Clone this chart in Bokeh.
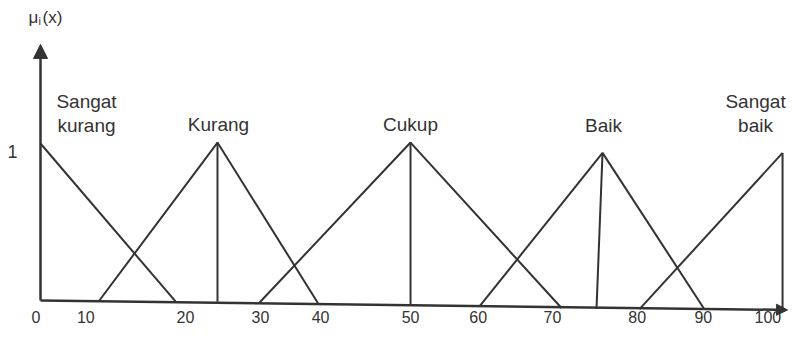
from bokeh.plotting import figure
from bokeh.models import Range1d, ColumnDataSource, Arrow, NormalHead
from bokeh.core.properties import value
from bokeh.embed import file_html
from bokeh.resources import INLINE

# ---------------- data ----------------
# fuzzy sets: name, polyline of the membership function, vertical drop from the peak
set_names = ["Sangat\nkurang", "Kurang", "Cukup", "Baik", "Sangat\nbaik"]
set_xs = [
    [0.0, 18.17],
    [7.87, 23.82, 37.35],
    [29.48, 49.80, 70.12],
    [59.08, 75.64, 89.37],
    [80.62, 99.87],
]
set_ys = [
    [1.0, -0.006],
    [-0.003, 1.006, -0.017],
    [-0.013, 1.006, -0.048],
    [-0.038, 0.940, -0.057],
    [-0.055, 0.940],
]
peak_x = [0.0, 23.82, 49.80, 75.64, 99.87]
peak_y = [1.0, 1.006, 1.006, 0.940, 0.940]
drop_xs = [[23.82, 23.82], [49.80, 49.80], [75.64, 74.83], [99.87, 99.87]]
drop_ys = [[1.006, -0.008], [1.006, -0.029], [0.940, -0.054], [0.940, -0.059]]

# axis tick labels as drawn
xtick_pos = [-0.6, 6.1, 19.5, 29.6, 37.7, 49.8, 58.9, 68.9, 80.3, 89.2, 97.9]
xtick_labels = ["0", "10", "20", "30", "40", "50", "60", "70", "80", "90", "100"]
ytick_pos = [0.95]
ytick_labels = ["1"]
y_title_main = "\u03bc"
y_title_sub = "i"
y_title_tail = "(x)"

# axes extents
x_axis_end = (100.54, -0.060)
y_axis_end = 1.631

# ---------------- layout / style ----------------
INK = "#333333"
FONT = value("Liberation Sans")

p = figure(width=788, height=328,
           x_range=Range1d(-5.384, 100.67), y_range=Range1d(-0.1783, 1.9108),
           x_axis_type=None, y_axis_type=None,
           output_backend="svg", toolbar_location=None,
           min_border=0, min_border_left=0, min_border_right=0,
           min_border_top=0, min_border_bottom=0)
p.grid.visible = False
p.outline_line_color = None
p.background_fill_color = "white"
p.border_fill_color = "white"

# axes with arrow heads
p.add_layout(Arrow(x_start=0, y_start=0, x_end=0, y_end=y_axis_end,
                   line_color=INK, line_width=2.5,
                   end=NormalHead(size=14, fill_color=INK, line_color=INK)))
p.add_layout(Arrow(x_start=0, y_start=0, x_end=x_axis_end[0], y_end=x_axis_end[1],
                   line_color=INK, line_width=2.5,
                   end=NormalHead(size=11, fill_color=INK, line_color=INK)))

# membership functions
p.multi_line(xs=set_xs, ys=set_ys, line_color=INK, line_width=2)
p.multi_line(xs=drop_xs, ys=drop_ys, line_color=INK, line_width=2)

# set labels (pixel offsets from the peaks)
lab_dx = [46, 1, 0, 1, -27]
lab_dy = [-30, -18, -18, -27, -39]
lab_src = ColumnDataSource(dict(x=peak_x, y=peak_y, t=set_names, dx=lab_dx, dy=lab_dy))
p.text(x="x", y="y", text="t", x_offset="dx", y_offset="dy", source=lab_src,
       text_font=FONT, text_font_size="19px", text_color=INK,
       text_align="center", text_baseline="middle", text_line_height=1.15)

# tick labels
xt_src = ColumnDataSource(dict(x=xtick_pos, y=[0.0] * len(xtick_pos), t=xtick_labels))
p.text(x="x", y="y", text="t", y_offset=22, source=xt_src,
       text_font=FONT, text_font_size="16px", text_color=INK,
       text_align="center", text_baseline="bottom", text_line_height=1.0)
yt_src = ColumnDataSource(dict(x=[0.0] * len(ytick_pos), y=ytick_pos, t=ytick_labels))
p.text(x="x", y="y", text="t", x_offset=-28, source=yt_src,
       text_font=FONT, text_font_size="18px", text_color=INK,
       text_align="center", text_baseline="middle")

# y title: mu with subscript i, then (x)
p.text(x=[0.0], y=[y_axis_end], text=[y_title_main], x_offset=-12, y_offset=-27,
       text_font=FONT, text_font_size="17px", text_color=INK,
       text_align="left", text_baseline="middle")
p.text(x=[0.0], y=[y_axis_end], text=[y_title_sub], x_offset=-2, y_offset=-23,
       text_font=FONT, text_font_size="11px", text_color=INK,
       text_align="left", text_baseline="middle")
p.text(x=[0.0], y=[y_axis_end], text=[y_title_tail], x_offset=2, y_offset=-27,
       text_font=FONT, text_font_size="17px", text_color=INK,
       text_align="left", text_baseline="middle")

open("out.html", "w").write(file_html(p, INLINE))
